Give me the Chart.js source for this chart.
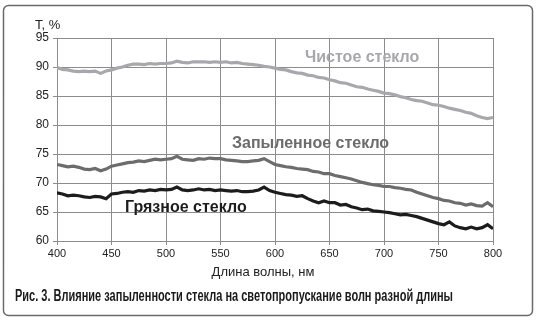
<!DOCTYPE html>
<html lang="ru">
<head>
<meta charset="utf-8">
<title>Светопропускание стекла</title>
<script src="https://cdn.jsdelivr.net/npm/chart.js@4.4.1/dist/chart.umd.min.js"></script>
<style>
    html, body { margin: 0; padding: 0; background: #fff; }
    #wrap { position: relative; width: 546px; height: 325px; }
</style>
</head>
<body>
<div id="wrap"><canvas id="glassChart" width="546" height="325"></canvas></div>
<script>
// Wavelength grid, nm (5 nm step)
const wavelengths = Array.from({ length: 81 }, (_, i) => 400 + i * 5);

// Transmittance, %
const cleanGlass = [
    89.9, 89.6, 89.5, 89.3, 89.2, 89.3, 89.2, 89.3, 88.9, 89.3,
    89.5, 89.8, 90.0, 90.3, 90.5, 90.5, 90.4, 90.6, 90.5, 90.6,
    90.6, 90.7, 91.0, 90.8, 90.7, 90.9, 90.9, 90.9, 90.8, 90.9,
    90.8, 90.9, 90.7, 90.8, 90.6, 90.5, 90.4, 90.3, 90.1, 90.0,
    89.8, 89.6, 89.5, 89.2, 89.0, 88.9, 88.6, 88.5, 88.2, 88.1,
    87.8, 87.6, 87.3, 87.2, 86.9, 86.6, 86.5, 86.2, 86.0, 85.8,
    85.5, 85.4, 85.2, 84.9, 84.7, 84.4, 84.2, 84.1, 83.8, 83.5,
    83.4, 83.2, 82.9, 82.7, 82.5, 82.2, 82.0, 81.6, 81.3, 81.1,
    81.3
];
const dustyGlass = [
    73.2, 73.0, 72.8, 72.9, 72.7, 72.4, 72.3, 72.5, 72.1, 72.4,
    72.9, 73.1, 73.3, 73.5, 73.6, 73.8, 73.7, 73.9, 74.1, 74.0,
    74.1, 74.2, 74.6, 74.1, 74.0, 73.9, 74.2, 74.1, 74.3, 74.2,
    74.2, 74.0, 73.9, 73.8, 73.7, 73.7, 73.8, 73.9, 74.2, 73.7,
    73.2, 73.0, 72.8, 72.7, 72.5, 72.4, 72.3, 72.0, 71.9, 71.6,
    71.6, 71.3, 71.1, 70.9, 70.7, 70.4, 70.1, 69.9, 69.7, 69.6,
    69.4, 69.4, 69.2, 69.1, 68.9, 68.8, 68.4, 68.1, 67.8, 67.5,
    67.3, 67.0, 66.9, 66.6, 66.5, 66.2, 66.4, 66.1, 66.0, 66.6,
    65.9
];
const dirtyGlass = [
    68.3, 68.1, 67.8, 67.9, 67.8, 67.6, 67.5, 67.7, 67.6, 67.3,
    68.1, 68.2, 68.4, 68.5, 68.4, 68.7, 68.6, 68.8, 68.7, 68.9,
    68.8, 68.9, 69.3, 68.8, 68.7, 68.8, 69.0, 68.8, 68.9, 68.7,
    68.8, 68.7, 68.6, 68.7, 68.5, 68.5, 68.6, 68.8, 69.3, 68.7,
    68.4, 68.2, 68.0, 67.9, 67.7, 67.8, 67.3, 66.9, 66.6, 66.9,
    66.6, 66.6, 66.2, 66.3, 65.9, 65.7, 65.4, 65.5, 65.2, 65.1,
    65.0, 64.9, 64.7, 64.5, 64.6, 64.4, 64.2, 63.9, 63.6, 63.3,
    63.0, 62.8, 63.3, 62.6, 62.3, 62.1, 62.4, 62.1, 62.3, 62.8,
    62.1
];

const seriesNames = ['Чистое стекло', 'Запыленное стекло', 'Грязное стекло'];
const seriesColors = ['#a7a8ac', '#6c6c6c', '#1c1c1c'];

const toPoints = (values) => values.map((v, i) => ({ x: wavelengths[i], y: v }));

const fontFamily = '"Liberation Sans", Arimo, Arial, sans-serif';
const textColor = '#222';
const gridColor = '#8c8c8c';
const captionText = 'Рис. 3. Влияние запыленности стекла на светопропускание волн разной длины';

// Draw text squeezed horizontally to a given width (narrow caption face)
function fillTextToWidth(ctx, text, x, y, width) {
    const natural = ctx.measureText(text).width;
    const k = Math.min(1, width / natural);
    ctx.save();
    ctx.translate(x, y);
    ctx.scale(k, 1);
    ctx.fillText(text, 0, 0);
    ctx.restore();
}

// Rounded frame, curve labels, axis captions and figure caption
const decorPlugin = {
    id: 'decor',
    beforeDraw(chart) {
        const ctx = chart.ctx;
        ctx.save();
        ctx.fillStyle = '#fff';
        ctx.fillRect(0, 0, chart.width, chart.height);
        ctx.strokeStyle = '#6a6a6a';
        ctx.lineWidth = 1.5;
        ctx.beginPath();
        ctx.roundRect(3.5, 5.5, 529, 310, 5);
        ctx.stroke();
        ctx.restore();
    },
    afterDraw(chart) {
        const ctx = chart.ctx;
        ctx.save();
        ctx.textBaseline = 'middle';

        // y axis unit
        ctx.fillStyle = textColor;
        ctx.font = `13px ${fontFamily}`;
        ctx.textAlign = 'left';
        ctx.fillText('T, %', 35, 25);

        // x axis title
        ctx.textAlign = 'center';
        ctx.fillText('Длина волны, нм', 263, 272);

        // curve labels
        ctx.font = `bold 16px ${fontFamily}`;
        ctx.textAlign = 'left';
        ctx.fillStyle = seriesColors[0];
        ctx.fillText(seriesNames[0], 305, 58);
        ctx.fillStyle = seriesColors[1];
        ctx.fillText(seriesNames[1], 232, 144);
        ctx.fillStyle = seriesColors[2];
        ctx.fillText(seriesNames[2], 125, 208);

        // figure caption
        ctx.fillStyle = '#1a1a1a';
        ctx.font = `bold 16px "Liberation Sans Narrow", ${fontFamily}`;
        fillTextToWidth(ctx, captionText, 15, 297, 438);
        ctx.restore();
    }
};

const ctx = document.getElementById('glassChart').getContext('2d');

new Chart(ctx, {
    type: 'line',
    data: {
        datasets: [cleanGlass, dustyGlass, dirtyGlass].map((values, i) => ({
            label: seriesNames[i],
            data: toPoints(values),
            borderColor: seriesColors[i],
            borderWidth: 3.2,
            pointRadius: 0,
            tension: 0,
            fill: false
        }))
    },
    options: {
        responsive: false,
        animation: false,
        layout: {
            padding: { left: 0, top: 38, right: 53, bottom: 40 }
        },
        plugins: {
            legend: { display: false },
            tooltip: { enabled: false }
        },
        scales: {
            x: {
                type: 'linear',
                min: 400,
                max: 800,
                grid: {
                    color: gridColor,
                    lineWidth: 1,
                    tickLength: 4
                },
                border: { color: gridColor },
                ticks: {
                    stepSize: 50,
                    color: textColor,
                    padding: 2,
                    maxRotation: 0,
                    font: { family: fontFamily, size: 11 }
                },
                afterFit: (scale) => { scale.height = 325 - 40 - 241; }
            },
            y: {
                min: 60,
                max: 95,
                grid: {
                    color: gridColor,
                    lineWidth: 1,
                    tickLength: 4
                },
                border: { color: gridColor },
                ticks: {
                    stepSize: 5,
                    color: textColor,
                    padding: 4,
                    font: { family: fontFamily, size: 12 }
                },
                afterFit: (scale) => { scale.width = 57; }
            }
        }
    },
    plugins: [decorPlugin]
});
</script>
</body>
</html>
